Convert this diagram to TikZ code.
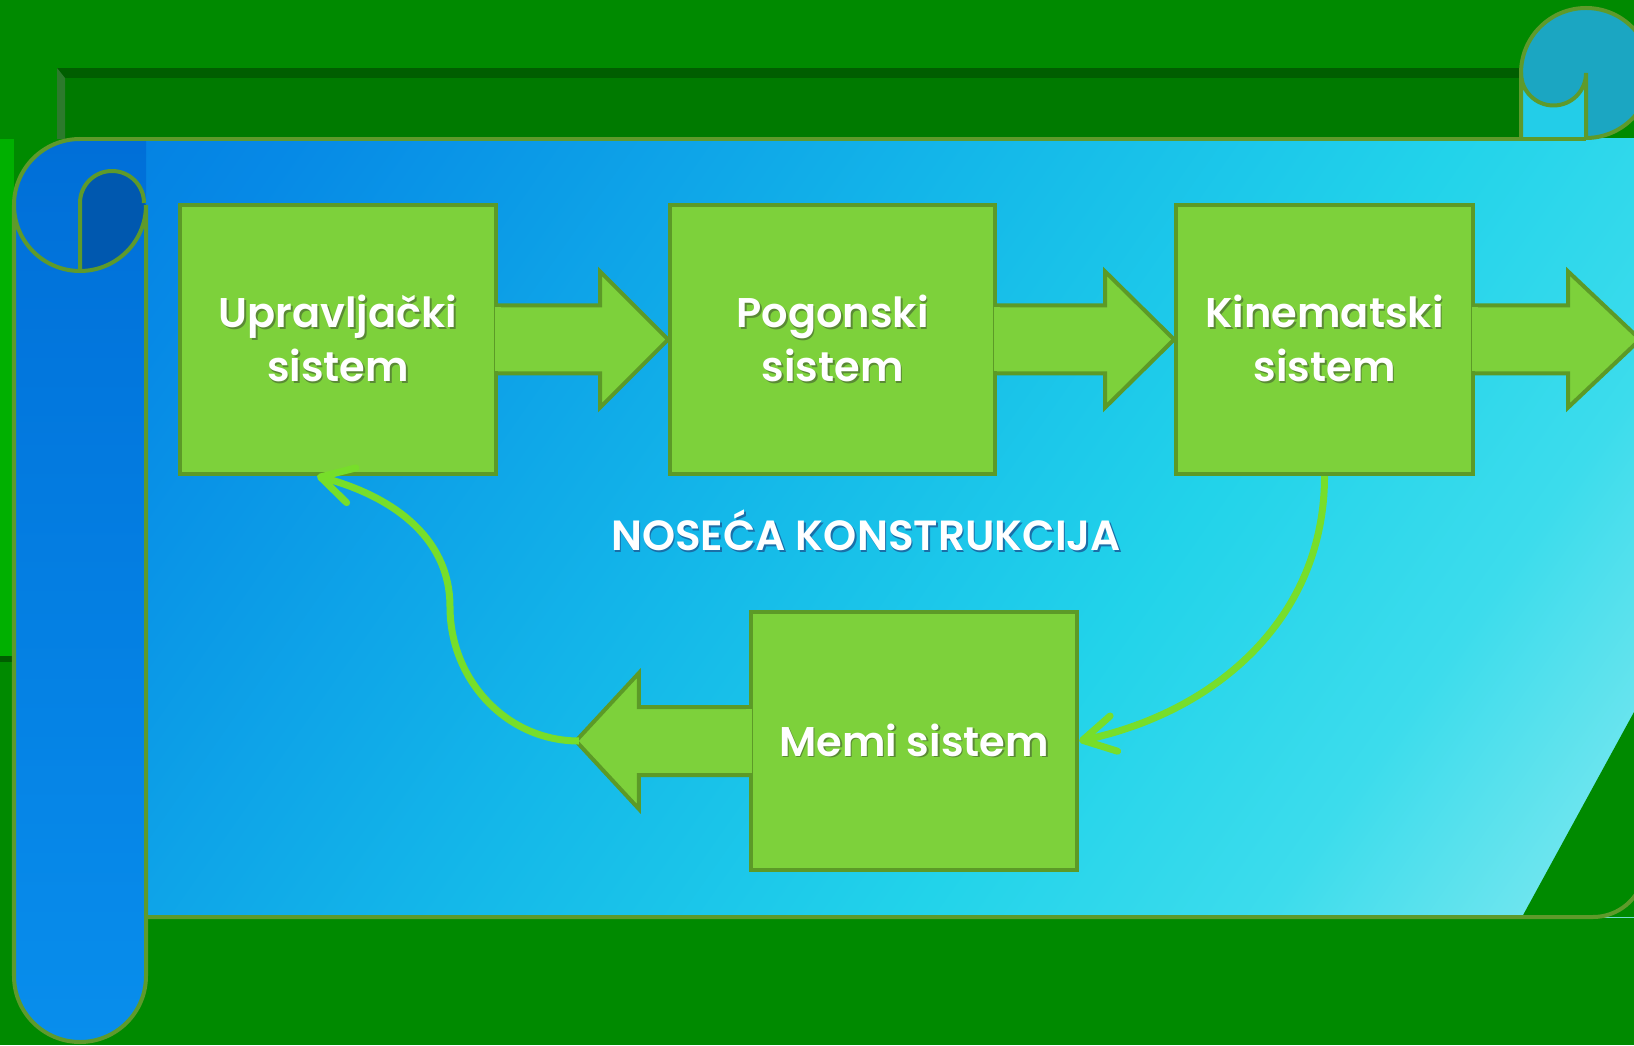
\documentclass[tikz,border=0pt]{standalone}
\usepackage{fontspec}
\setmainfont{Poppins}[BoldFont={* SemiBold}]
\usetikzlibrary{calc,arrows.meta}

\definecolor{bggreen}{HTML}{008A00}
\definecolor{brightgreen}{HTML}{00B000}
\definecolor{darkband}{HTML}{005E00}
\definecolor{shadowrect}{HTML}{007A00}
\definecolor{bevel}{HTML}{2C7A2C}
\definecolor{edge}{HTML}{5E9A2B}
\definecolor{blockgreen}{HTML}{7DD13B}
\definecolor{blockline}{HTML}{5C9A27}
\definecolor{linkgreen}{HTML}{77DE2A}
\definecolor{panelA}{HTML}{0070D9}
\definecolor{panelB}{HTML}{0689E6}
\definecolor{panelC}{HTML}{14B8E9}
\definecolor{panelD}{HTML}{22D3EA}
\definecolor{panelE}{HTML}{3CDCEC}
\definecolor{panelF}{HTML}{A0EEF0}
\definecolor{rolltop}{HTML}{006FD8}
\definecolor{rollbottom}{HTML}{088EEC}
\definecolor{curldark}{HTML}{0058AF}
\definecolor{curlteal}{HTML}{1BA6C2}
\definecolor{curlback}{HTML}{23CDE8}
\definecolor{txtshade}{HTML}{5A8A35}
\definecolor{txtshadeblue}{HTML}{1A6FA8}

\pgfdeclarehorizontalshading{panelshade}{100bp}{color(0bp)=(panelA); color(20bp)=(panelB); color(44bp)=(panelC); color(60bp)=(panelD); color(72bp)=(panelE); color(90bp)=(panelF); color(100bp)=(panelF)}

\newcommand{\shtext}[2][txtshade]{\makebox[0pt][l]{\kern0.5pt\raisebox{-0.5pt}{\color{#1}#2}}#2}
% block arrow glued to a box side: anchor, direction, shaft length, total length
\newcommand{\blockarrow}[4]{%
  \draw[block] ($(#1)+(0,34)$) -- ++(#2*#3,0) -- ++(0,34) -- ($(#1)+(#2*#4,0)$)
    -- ($(#1)+(#2*#3,-68)$) -- ++(0,34) -- ($(#1)+(0,-34)$);
  \fill[blockgreen] ($(#1)+(-3,-32)$) rectangle ($(#1)+(3,32)$);
}

\tikzset{
  box/.style={draw=blockline, fill=blockgreen, line width=0.04cm, text=white, align=center,
    font=\bfseries\fontsize{11.8}{15.5}\selectfont, inner sep=0pt},
  block/.style={draw=blockline, fill=blockgreen, line width=0.04cm},
  link/.style={draw=linkgreen, line width=0.07cm, -{Straight Barb[length=3.2mm,width=3.6mm,round]}},
  rim/.style={draw=edge, line width=0.04cm},
}

\begin{document}
\begin{tikzpicture}[x=0.01cm, y=0.01cm]
  %%%%% START %%%%%
  \useasboundingbox (0,0) rectangle (1634,1045);
  \clip (0,0) rectangle (1634,1045);

  \fill[bggreen] (0,0) rectangle (1634,1045);
  \fill[brightgreen] (0,389) rectangle (14,906);
  \fill[darkband] (0,383) rectangle (14,389);

  \fill[shadowrect] (57,906) rectangle (1521,977);
  \fill[darkband] (57,967) rectangle (1521,977);
  \fill[bevel] (57,906) -- (57,977) -- (65,967) -- (65,906) -- cycle;

  % the sheet
  \shade[shading=panelshade, shading angle=-35] (146,128) rectangle (1640,906);
  \fill[bggreen] (1522,128) -- (1634,333) -- (1640,333) -- (1640,128) -- cycle;

  % left roll
  \shade[top color=rolltop, bottom color=rollbottom] (146,906) -- (146,69) arc[start angle=0, end angle=-180, radius=66]
    -- (14,840) arc[start angle=180, end angle=90, radius=66] -- cycle;
  \fill[curldark] (80,774) -- (80,842) arc[start angle=180, end angle=0, radius=32]
    -- (146,840) arc[start angle=0, end angle=-90, radius=66] -- cycle;

  % top right curl
  \filldraw[rim, fill=curlteal] (1586,972) circle (65);
  \fill[curlback] (1521,906) -- (1521,972) arc[start angle=180, end angle=360, radius=32.5] -- (1586,906) -- cycle;
  \draw[rim] (1521,906) -- (1521,972) arc[start angle=180, end angle=360, radius=32.5] -- (1586,906);

  \draw[rim] (80,906) arc[start angle=90, end angle=360, radius=66] -- (146,69)
    arc[start angle=0, end angle=-180, radius=66] -- (14,840);
  \draw[rim] (80,774) -- (80,842) arc[start angle=180, end angle=0, radius=32];
  \draw[rim] (80,906) -- (1586,906);
  \draw[rim] (146,128) -- (1593,128) arc[start angle=-90, end angle=-10, radius=52];

  % blocks
  \node[box, minimum width=3.16cm, minimum height=2.69cm] (upr) at (338,705.5) {\shtext{Upravljački}\\\shtext{sistem}};
  \node[box, minimum width=3.25cm, minimum height=2.69cm] (pog) at (832.5,705.5) {\shtext{Pogonski}\\\shtext{sistem}};
  \node[box, minimum width=2.97cm, minimum height=2.69cm] (kin) at (1324.5,705.5) {\shtext{Kinematski}\\\shtext{sistem}};
  \node[box, minimum width=3.26cm, minimum height=2.58cm] (mem) at (914,304) {\shtext{Memi sistem}};

  \blockarrow{upr.east}{1}{102}{170}
  \blockarrow{pog.east}{1}{108}{177}
  \blockarrow{kin.east}{1}{93}{165}
  \blockarrow{mem.west}{-1}{110}{173}

  \node[text=white, font=\bfseries\fontsize{12}{15.5}\selectfont] (noseca) at (866,514) {\shtext[txtshadeblue]{NOSEĆA KONSTRUKCIJA}};

  % feedback
  \coordinate (memtip) at ($(mem.west)+(-170,0)$);
  \coordinate (bend) at (450,438);
  \draw[link] (memtip) to[out=180, in=-90] (bend) to[out=90, in=-15] ($(upr.south)+(-21,0)$);
  \draw[link] (kin.south) to[out=-90, in=12] (mem.east);
  %%%%% END %%%%%
\end{tikzpicture}
\end{document}
